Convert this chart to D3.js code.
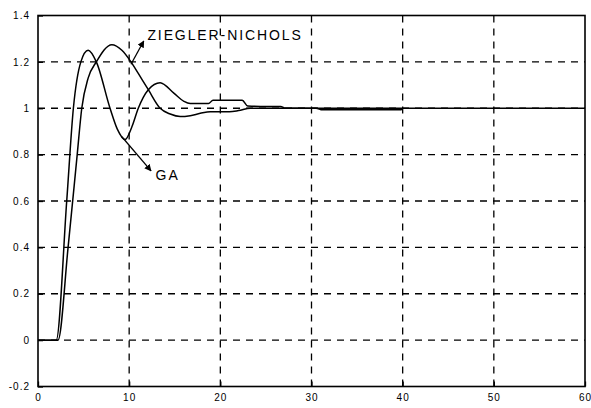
<!DOCTYPE html>
<html>
<head>
<meta charset="utf-8">
<script src="https://cdn.jsdelivr.net/npm/d3@7"></script>
<style>
  body { margin: 0; background: #fff; }
  text { font-family: "Liberation Sans", Arial, sans-serif; fill: #000; }
</style>
</head>
<body>
<div id="chart"></div>
<script>
'use strict';

// step response values
const gaTime  = [0, 2.0, 3.15, 3.88, 4.7, 5.5, 6.4, 7.9, 8.7, 9.55, 10.3, 11.0, 12.1, 13.4, 14.9, 16.0, 16.7, 18.7, 19.2, 22.4, 23.0, 24.4, 26.6, 27.2, 60];
const gaValue = [0, 0,   0.6,  1.0,  1.2, 1.25, 1.2, 1.0, 0.91, 0.865, 0.92, 1.0, 1.08, 1.11, 1.065, 1.03, 1.02, 1.02, 1.035, 1.035, 1.01, 1.008, 1.008, 1.0, 1.0];

const znTime  = [0, 2.2, 3.3, 4.3, 4.8, 5.5, 6.4, 8.1, 9.2, 10.2, 11.0, 12.1, 13.4, 14.5, 15.6, 16.7, 17.8, 18.9, 21.0, 22.0, 23.3, 30.5, 31.2, 39.8, 40];
const znValue = [0, 0,   0.4, 0.8, 1.0, 1.13, 1.2, 1.274, 1.25, 1.2, 1.15, 1.08, 1.0, 0.975, 0.964, 0.968, 0.978, 0.985, 0.985, 0.99, 1.0, 1.0, 0.993, 0.993, 1.0];

const xTicks = [0, 10, 20, 30, 40, 50, 60];
const xTickLabels = ["0", "10", "20", "30", "40", "50", "60"];
const yTicks = [-0.2, 0, 0.2, 0.4, 0.6, 0.8, 1, 1.2, 1.4];
const yTickLabels = ["-0.2", "0", "0.2", "0.4", "0.6", "0.8", "1", "1.2", "1.4"];

// annotations: [text, label x, label y, arrow from x, from y, arrow to x, to y]
const znNote = ["ZIEGLER-NICHOLS", 12.0, 1.295, 10.2, 1.19, 11.6, 1.29];
const gaNote = ["GA", 12.9, 0.69, 9.2, 0.877, 12.4, 0.73];

const width = 591, height = 408;
const svg = d3.select('#chart').append('svg')
  .attr('width', width)
  .attr('height', height);

const xScale = d3.scaleLinear().domain([0, 60]).range([38, 585]);
const yScale = d3.scaleLinear().domain([-0.2, 1.4]).range([386.5, 15.5]);

// dashed grid
svg.append('g').selectAll('line')
  .data(xTicks.slice(1, -1))
  .enter().append('line')
    .attr('x1', d => xScale(d)).attr('x2', d => xScale(d))
    .attr('y1', yScale(1.4)).attr('y2', yScale(-0.2))
    .attr('stroke', '#000').attr('stroke-width', 1.3)
    .attr('stroke-dasharray', '7,6');

svg.append('g').selectAll('line')
  .data(yTicks.slice(1, -1))
  .enter().append('line')
    .attr('y1', d => yScale(d)).attr('y2', d => yScale(d))
    .attr('x1', xScale(0)).attr('x2', xScale(60))
    .attr('stroke', '#000').attr('stroke-width', 1.3)
    .attr('stroke-dasharray', '7,6');

// axes
let xAxis = d3.axisBottom(xScale)
  .tickValues(xTicks)
  .tickSize(-5)
  .tickPadding(7)
  .tickFormat((d, i) => xTickLabels[i]);
let gx = svg.append('g')
  .attr('transform', 'translate(0,' + yScale(-0.2) + ')')
  .call(xAxis);

let yAxis = d3.axisLeft(yScale)
  .tickValues(yTicks)
  .tickSize(-5)
  .tickPadding(8)
  .tickFormat((d, i) => yTickLabels[i]);
let gy = svg.append('g')
  .attr('transform', 'translate(' + xScale(0) + ',0)')
  .call(yAxis);

[gx, gy].forEach(g => {
  g.select('.domain').remove();
  g.selectAll('line').attr('stroke', '#000').attr('stroke-width', 1.3);
  g.selectAll('text')
    .style('font-size', '10px')
    .style('letter-spacing', '1px')
    .attr('fill', '#000');
});

// frame
svg.append('rect')
  .attr('x', xScale(0)).attr('y', yScale(1.4))
  .attr('width', xScale(60) - xScale(0))
  .attr('height', yScale(-0.2) - yScale(1.4))
  .attr('fill', 'none')
  .attr('stroke', '#000')
  .attr('stroke-width', 1.6);

// curves
let line = d3.line()
  .x(d => xScale(d[0]))
  .y(d => yScale(d[1]))
  .curve(d3.curveMonotoneX);

[[gaTime, gaValue], [znTime, znValue]].forEach(s => {
  svg.append('path')
    .datum(d3.zip(s[0], s[1]))
    .attr('fill', 'none')
    .attr('stroke', '#000')
    .attr('stroke-width', 1.5)
    .attr('d', line);
});

// arrow marker
svg.append('defs').append('marker')
  .attr('id', 'head')
  .attr('viewBox', '0 0 10 10')
  .attr('refX', 9).attr('refY', 5)
  .attr('markerWidth', 7).attr('markerHeight', 7)
  .attr('markerUnits', 'userSpaceOnUse')
  .attr('orient', 'auto')
  .append('path')
    .attr('d', 'M0,0L10,5L0,10Z')
    .attr('fill', '#000');

[znNote, gaNote].forEach(n => {
  svg.append('line')
    .attr('x1', xScale(n[3])).attr('y1', yScale(n[4]))
    .attr('x2', xScale(n[5])).attr('y2', yScale(n[6]))
    .attr('stroke', '#000').attr('stroke-width', 1.3)
    .attr('marker-end', 'url(#head)');
  svg.append('text')
    .attr('x', xScale(n[1]))
    .attr('y', yScale(n[2]))
    .style('font-size', '14px')
    .style('letter-spacing', '1.9px')
    .text(n[0]);
});
</script>
</body>
</html>
